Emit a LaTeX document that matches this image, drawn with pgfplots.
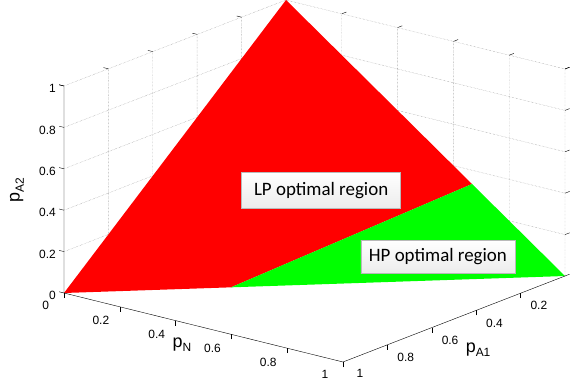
\documentclass[border=0pt]{standalone}
\usepackage{pgfplots}
\pgfplotsset{compat=1.18}
\usepackage{fontspec}
\setmainfont{Liberation Sans}
\newfontfamily\calibri{Carlito}
\definecolor{mred}{RGB}{255,0,0}
\definecolor{mgreen}{RGB}{0,255,0}
\begin{document}
\begin{tikzpicture}
\begin{axis}[
  x={(279bp,-69bp)}, y={(-222bp,-86bp)}, z={(0bp,207bp)},
  xmin=0,xmax=1,ymin=0,ymax=1,zmin=0,zmax=1,
  xtick={0,0.2,0.4,0.6,0.8,1},
  ytick={0.2,0.4,0.6,0.8,1},
  ztick={0,0.2,0.4,0.6,0.8,1},
  tick pos=left,
  tick align=outside,
  axis line style={draw=none},
  tick style={black, thin},
  major tick length=5bp,
  ticklabel style={font=\fontsize{12}{13}\selectfont},
  xticklabel style={xshift=-8bp, yshift=-3bp},
  yticklabel style={xshift=6bp, yshift=-2bp},
  /pgf/number format/assume math mode=true,
  clip=false,
]
\coordinate (O) at (axis cs:0,0,0);
% grid lines on the two back walls
\addplot3[gray!90, densely dotted, thin, unbounded coords=jump] coordinates {
  (0,0,0) (0,0,1) (nan,nan,nan)
  (0,0.2,0) (0,0.2,1) (nan,nan,nan)
  (0,0.4,0) (0,0.4,1) (nan,nan,nan)
  (0,0.6,0) (0,0.6,1) (nan,nan,nan)
  (0,0.8,0) (0,0.8,1) (nan,nan,nan)
  (0,0,0.2) (0,1,0.2) (nan,nan,nan)
  (0,0,0.4) (0,1,0.4) (nan,nan,nan)
  (0,0,0.6) (0,1,0.6) (nan,nan,nan)
  (0,0,0.8) (0,1,0.8) (nan,nan,nan)
  (0,0,1) (0,1,1) (nan,nan,nan)
  (0.2,0,0) (0.2,0,1) (nan,nan,nan)
  (0.4,0,0) (0.4,0,1) (nan,nan,nan)
  (0.6,0,0) (0.6,0,1) (nan,nan,nan)
  (0.8,0,0) (0.8,0,1) (nan,nan,nan)
  (1,0,0) (1,0,1) (nan,nan,nan)
  (0,0,0.2) (1,0,0.2) (nan,nan,nan)
  (0,0,0.4) (1,0,0.4) (nan,nan,nan)
  (0,0,0.6) (1,0,0.6) (nan,nan,nan)
  (0,0,0.8) (1,0,0.8) (nan,nan,nan)
  (0,0,1) (1,0,1)
};
% LP optimal region
\addplot3[fill=mred, draw=none] coordinates {
  (0,1,0) (0,0,1) (0.6667,0,0.3333) (0.3333,0.6667,0)
};
% HP optimal region
\addplot3[fill=mgreen, draw=none] coordinates {
  (1,0,0) (0.6667,0,0.3333) (0.3333,0.6667,0)
};
% axis lines
\addplot3[black, thin] coordinates {(0,1,1) (0,1,0) (1,1,0) (1,0,0)};
% annotations
\node[draw=gray!55, top color=white, bottom color=gray!15, minimum width=159bp, minimum height=36bp, inner sep=0pt, font=\calibri\fontsize{19}{22}\selectfont] at (axis cs:0.367,0.303,0.33) {LP optimal region};
\node[draw=gray!55, top color=white, bottom color=gray!15, minimum width=154bp, minimum height=33bp, inner sep=0pt, font=\calibri\fontsize{19}{22}\selectfont] at (axis cs:0.710,0.208,0.082) {HP optimal region};
% axis labels
\node[font=\fontsize{18}{20}\selectfont] at (axis cs:0.552,1.162,0) {p\raisebox{-0.45ex}{\fontsize{12}{12}\selectfont N}};
\node[font=\fontsize{18}{20}\selectfont] at (axis cs:1.228,0.678,0) {p\raisebox{-0.45ex}{\fontsize{12}{12}\selectfont A1}};
\node[font=\fontsize{18}{20}\selectfont, rotate=90] at (axis cs:0,1.212,0.586) {p\raisebox{-0.45ex}{\fontsize{12}{12}\selectfont A2}};
\end{axis}
\pgfresetboundingbox
\path[use as bounding box] ([shift={(-286bp,207bp)}]O) rectangle ([shift={(287bp,-176bp)}]O);
\end{tikzpicture}
\end{document}
